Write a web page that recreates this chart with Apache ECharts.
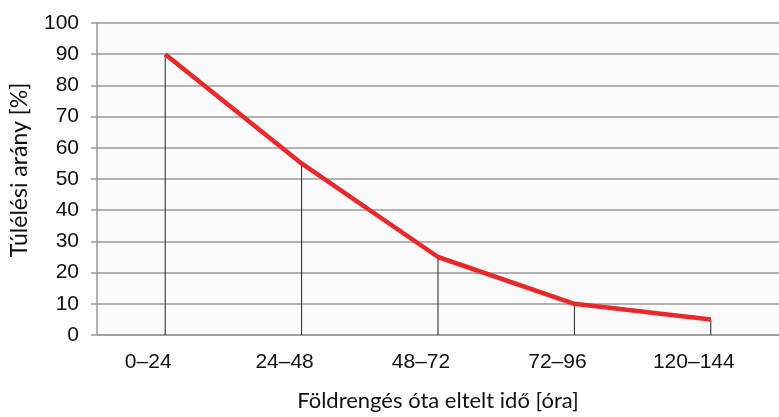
<!DOCTYPE html>
<html>
<head>
<meta charset="utf-8">
<script src="https://cdn.jsdelivr.net/npm/echarts@6/dist/echarts.min.js"></script>
<style>html,body{margin:0;padding:0;background:#fff;}#c{width:779px;height:417px;}</style>
</head>
<body>
<div id="c"></div>
<script>
const categories = ['0–24', '24–48', '48–72', '72–96', '120–144'];
const survivalRate = [90, 55, 25, 10, 5];
const yTicks = { min: 0, max: 100, interval: 10 };
const xTitle = 'Földrengés óta eltelt idő [óra]';
const yTitle = 'Túlélési arány [%]';

const chart = echarts.init(document.getElementById('c'));
chart.setOption({
  animation: false,
  backgroundColor: '#ffffff',
  grid: { left: 96, right: 0, top: 23, bottom: 79, show: true, backgroundColor: '#fbfbfb', borderWidth: 0 },
  xAxis: {
    type: 'category',
    data: categories,
    boundaryGap: true,
    axisLine: { lineStyle: { color: '#9a9a9a', width: 1.5 } },
    axisTick: { show: false },
    axisLabel: { color: '#111', fontSize: 21, fontFamily: 'Liberation Sans', margin: 17, padding: [0, 34, 0, 0] },
    name: xTitle,
    nameLocation: 'middle',
    nameGap: 55,
    nameTextStyle: { color: '#111', fontSize: 22, fontFamily: 'Lato' }
  },
  yAxis: {
    type: 'value',
    min: yTicks.min, max: yTicks.max, interval: yTicks.interval,
    axisLine: { show: true, lineStyle: { color: '#9a9a9a', width: 1.5 } },
    axisTick: { show: true, length: 6, lineStyle: { color: '#9a9a9a', width: 1.5 } },
    splitLine: { lineStyle: { color: '#9a9a9a', width: 1.5 } },
    axisLabel: { color: '#111', fontSize: 21, fontFamily: 'Liberation Sans', margin: 18 },
    name: yTitle,
    nameLocation: 'middle',
    nameGap: 66,
    nameTextStyle: { color: '#111', fontSize: 23, fontFamily: 'Lato', padding: [0, 0, 0, 18] }
  },
  series: [
    {
      type: 'bar',
      data: survivalRate,
      barWidth: 1,
      itemStyle: { color: '#222' },
      z: 2
    },
    {
      type: 'line',
      data: survivalRate,
      symbol: 'none',
      lineStyle: { color: '#e8282b', width: 4.5 },
      z: 3
    }
  ]
});
</script>
</body>
</html>
